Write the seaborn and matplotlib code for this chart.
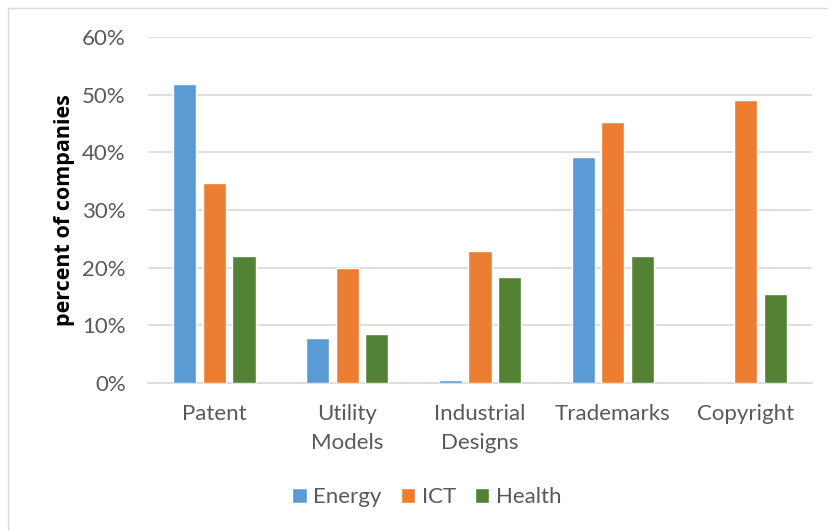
import numpy as np
import pandas as pd
import matplotlib
matplotlib.use("Agg")
import matplotlib.pyplot as plt
from matplotlib.patches import Rectangle
import seaborn as sns

# data
categories = ["Patent", "Utility\nModels", "Industrial\nDesigns", "Trademarks", "Copyright"]
energy = [51.8, 7.8, 0.6, 39.2, 0.0]
ict = [34.7, 20.0, 22.9, 45.3, 49.1]
health = [22.1, 8.5, 18.4, 22.1, 15.4]
sectors = ["Energy", "ICT", "Health"]
colors = ["#5B9BD5", "#ED7D31", "#548235"]

df = pd.DataFrame({"category": categories * 3,
                   "sector": np.repeat(sectors, len(categories)),
                   "value": energy + ict + health})

sns.set_style("white")
plt.rcParams["font.family"] = ["Lato", "DejaVu Sans"]

fig = plt.figure(figsize=(8.29, 5.31), dpi=100)
ax = fig.add_axes([148/829, 1-383/531, 664/829, 346/531])

# chart border (left/top visible)
fig.patches.append(Rectangle((8/829, -0.1), 1.2, 1-8/531+0.1, transform=fig.transFigure,
                             fill=False, edgecolor="#d9d9d9", linewidth=1, zorder=0))

sns.barplot(data=df, x="category", y="value", hue="sector", palette=colors,
            saturation=1, width=0.67, gap=0.215, ax=ax, legend=True, zorder=3)

ax.set_ylim(0, 60)
ax.set_xlim(-0.5, 4.5)
ax.set_yticks(range(0, 61, 10))
ax.set_yticklabels([f"{v}%" for v in range(0, 61, 10)])
ax.yaxis.grid(True, color="#d9d9d9", linewidth=1.2, zorder=0)
ax.set_axisbelow(True)
for s in ["top", "right", "left"]:
    ax.spines[s].set_visible(False)
ax.spines["bottom"].set_color("#d9d9d9")
ax.spines["bottom"].set_linewidth(1.2)
ax.tick_params(axis="both", length=0, labelsize=16, labelcolor="#595959")
ax.tick_params(axis="x", pad=15)
ax.tick_params(axis="y", pad=16)
for lab in ax.get_xticklabels():
    lab.set_linespacing(1.55)
ax.set_xlabel("")
ax.set_ylabel("percent of companies", fontsize=15.5, fontweight="bold", color="black",
              family=["Open Sans", "DejaVu Sans"], labelpad=5)

ax.legend(loc="center", bbox_to_anchor=(427/829, 1-497/531), bbox_transform=fig.transFigure,
          ncol=3, frameon=False, fontsize=16, labelcolor="#595959",
          handlelength=0.65, handleheight=0.65, handletextpad=0.3, columnspacing=0.85)

fig.savefig("out.png", dpi=100)
